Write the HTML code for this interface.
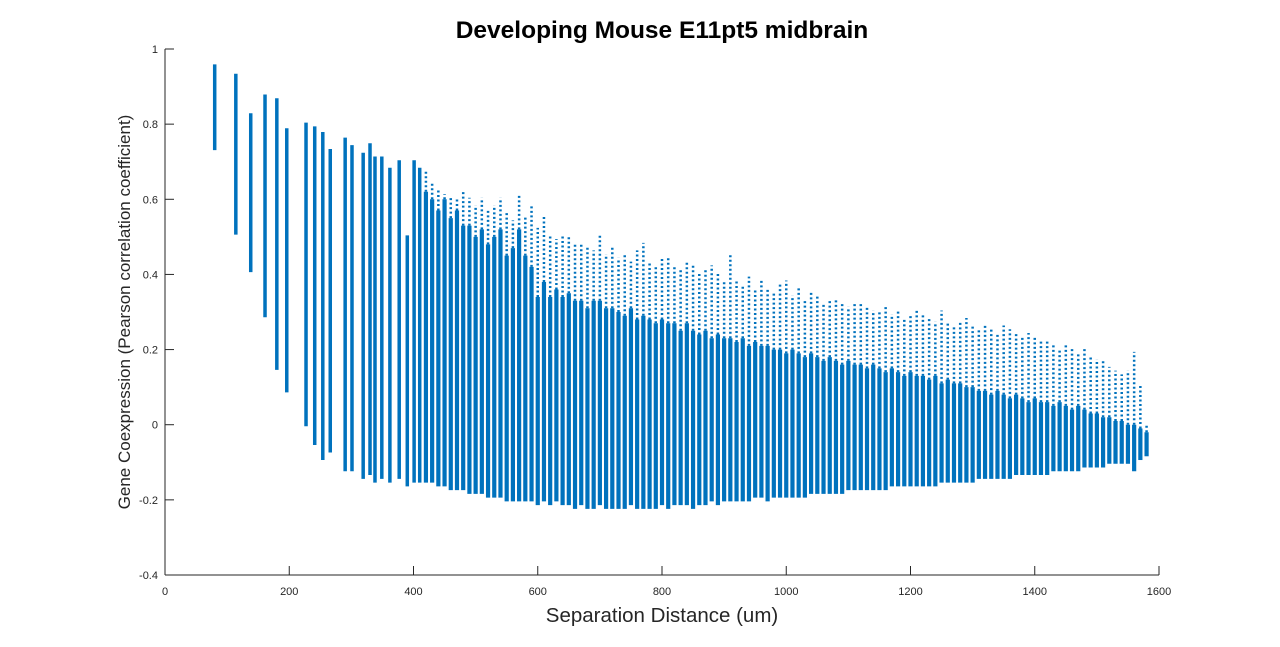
<!DOCTYPE html>
<html><head><meta charset="utf-8"><style>
body{margin:0;background:#fff;}
svg{display:block;font-family:"Liberation Sans",Arial,sans-serif;}
</style></head><body>
<svg id="chart" width="1280" height="647" viewBox="0 0 1280 647">
<rect width="1280" height="647" fill="#fff"/>
<text x="662" y="38" text-anchor="middle" font-size="24.5" font-weight="bold" fill="#000">Developing Mouse E11pt5 midbrain</text>
<g id="marks"></g>
<g id="axes"></g>
<text x="662" y="622" text-anchor="middle" font-size="20.5" fill="#262626">Separation Distance (um)</text>
<text transform="translate(130,312) rotate(-90)" text-anchor="middle" font-size="17" fill="#262626">Gene Coexpression (Pearson correlation coefficient)</text>
</svg>
<script>
const xTicks=[0,200,400,600,800,1000,1200,1400,1600];
const yTicks=[-0.4,-0.2,0,0.2,0.4,0.6,0.8,1];
const leftX=[80,114,138,161,180,196,227,241,254,266,290,301,319,330,338,349,362,377,390,401,410];
const leftLo=[.735,.51,.41,.29,.15,.09,0,-.05,-.09,-.07,-.12,-.12,-.14,-.13,-.15,-.14,-.15,-.14,-.16,-.15,-.15];
const leftHi=[.955,.93,.825,.875,.865,.785,.8,.79,.775,.73,.76,.74,.72,.745,.71,.71,.68,.70,.5,.7,.68];
const denseX=[420,430,440,450,460,470,480,490,500,510,520,530,540,550,560,570,580,590,600,610,620,630,640,650,660,670,680,690,700,710,720,730,740,750,760,770,780,790,800,810,820,830,840,850,860,870,880,890,900,910,920,930,940,950,960,970,980,990,1000,1010,1020,1030,1040,1050,1060,1070,1080,1090,1100,1110,1120,1130,1140,1150,1160,1170,1180,1190,1200,1210,1220,1230,1240,1250,1260,1270,1280,1290,1300,1310,1320,1330,1340,1350,1360,1370,1380,1390,1400,1410,1420,1430,1440,1450,1460,1470,1480,1490,1500,1510,1520,1530,1540,1550,1560,1570,1580];
const denseHi=[.67,.64,.62,.61,.6,.6,.62,.6,.58,.6,.57,.58,.6,.56,.54,.61,.55,.58,.52,.55,.5,.49,.5,.5,.48,.48,.47,.46,.5,.45,.47,.44,.45,.43,.46,.48,.43,.42,.44,.44,.42,.41,.43,.42,.4,.41,.42,.4,.38,.45,.38,.37,.39,.36,.38,.36,.35,.37,.38,.34,.36,.33,.35,.34,.32,.33,.33,.32,.31,.32,.32,.31,.3,.3,.31,.29,.3,.28,.29,.3,.29,.28,.27,.3,.27,.26,.27,.28,.26,.25,.26,.25,.24,.26,.25,.24,.23,.24,.23,.22,.22,.21,.2,.21,.2,.19,.2,.18,.17,.17,.15,.14,.13,.14,.19,.1,0];
const denseCore=[.62,.6,.57,.6,.55,.57,.53,.53,.5,.52,.48,.5,.52,.45,.47,.52,.45,.42,.34,.38,.34,.36,.34,.35,.33,.33,.31,.33,.33,.31,.31,.3,.29,.31,.28,.29,.28,.27,.28,.27,.27,.25,.27,.25,.24,.25,.23,.24,.23,.23,.22,.23,.21,.22,.21,.21,.2,.2,.19,.2,.19,.18,.19,.18,.17,.18,.17,.16,.17,.16,.16,.15,.16,.15,.14,.15,.14,.13,.14,.13,.13,.12,.13,.11,.12,.11,.11,.1,.1,.09,.09,.08,.09,.08,.07,.08,.07,.06,.07,.06,.06,.05,.06,.05,.04,.05,.04,.03,.03,.02,.02,.01,.01,0,0,-.01,-.02];
const denseLo=[-.15,-.15,-.16,-.16,-.17,-.17,-.17,-.18,-.18,-.18,-.19,-.19,-.19,-.2,-.2,-.2,-.2,-.2,-.21,-.2,-.21,-.2,-.21,-.21,-.22,-.21,-.22,-.22,-.21,-.22,-.22,-.22,-.22,-.21,-.22,-.22,-.22,-.22,-.21,-.22,-.21,-.21,-.21,-.22,-.21,-.21,-.2,-.21,-.2,-.2,-.2,-.2,-.2,-.19,-.19,-.2,-.19,-.19,-.19,-.19,-.19,-.19,-.18,-.18,-.18,-.18,-.18,-.18,-.17,-.17,-.17,-.17,-.17,-.17,-.17,-.16,-.16,-.16,-.16,-.16,-.16,-.16,-.16,-.15,-.15,-.15,-.15,-.15,-.15,-.14,-.14,-.14,-.14,-.14,-.14,-.13,-.13,-.13,-.13,-.13,-.13,-.12,-.12,-.12,-.12,-.12,-.11,-.11,-.11,-.11,-.1,-.1,-.1,-.1,-.12,-.09,-.08];

const NS='http://www.w3.org/2000/svg';
const X0=165,X1=1159,Y0=575,Y1=49;
const xS=v=>X0+(v-0)/(1600-0)*(X1-X0);
const yS=v=>Y0-(v-(-0.4))/(1-(-0.4))*(Y0-Y1);
const C='#0072BD';
const marks=document.getElementById('marks');
function line(g,x1,y1,x2,y2,w,dash,name){
  const l=document.createElementNS(NS,'line');
  l.setAttribute('x1',x1);l.setAttribute('y1',y1);l.setAttribute('x2',x2);l.setAttribute('y2',y2);
  l.setAttribute('stroke',C);l.setAttribute('stroke-width',w);
  if(dash)l.setAttribute('stroke-dasharray',dash);
  
  
  g.appendChild(l);return l;
}
leftX.forEach((x,i)=>{
  line(marks,xS(x),yS(leftLo[i])+1.5,xS(x),yS(leftHi[i])-1.5,3.5,null,'point-column');
});
denseX.forEach((x,i)=>{
  line(marks,xS(x),yS(denseLo[i])+1.5,xS(x),yS(denseCore[i]),4.2,null,'point-column-core');
  line(marks,xS(x),yS(denseCore[i]),xS(x),yS(denseHi[i])-1.5,2.5,'2 2.5','point-column-sparse');
});
const axes=document.getElementById('axes');
function ax(tag,attrs,name,txt){
  const e=document.createElementNS(NS,tag);
  for(const k in attrs)e.setAttribute(k,attrs[k]);
  
  
  if(txt!==undefined)e.textContent=txt;
  axes.appendChild(e);return e;
}
ax('line',{x1:X0,y1:Y0,x2:X1,y2:Y0,stroke:'#262626','stroke-width':1},'x-axis-line');
ax('line',{x1:X0,y1:Y0,x2:X0,y2:Y1,stroke:'#262626','stroke-width':1},'y-axis-line');
xTicks.forEach(t=>{
  ax('line',{x1:xS(t),y1:Y0,x2:xS(t),y2:Y0-9,stroke:'#262626','stroke-width':1},'x-tick');
  ax('text',{x:xS(t),y:Y0+20,'text-anchor':'middle','font-size':11,fill:'#262626'},'x-tick-label',String(t));
});
yTicks.forEach(t=>{
  ax('line',{x1:X0,y1:yS(t),x2:X0+9,y2:yS(t),stroke:'#262626','stroke-width':1},'y-tick');
  ax('text',{x:X0-7,y:yS(t)+4,'text-anchor':'end','font-size':11,fill:'#262626'},'y-tick-label',String(t));
});
</script>
</body></html>
